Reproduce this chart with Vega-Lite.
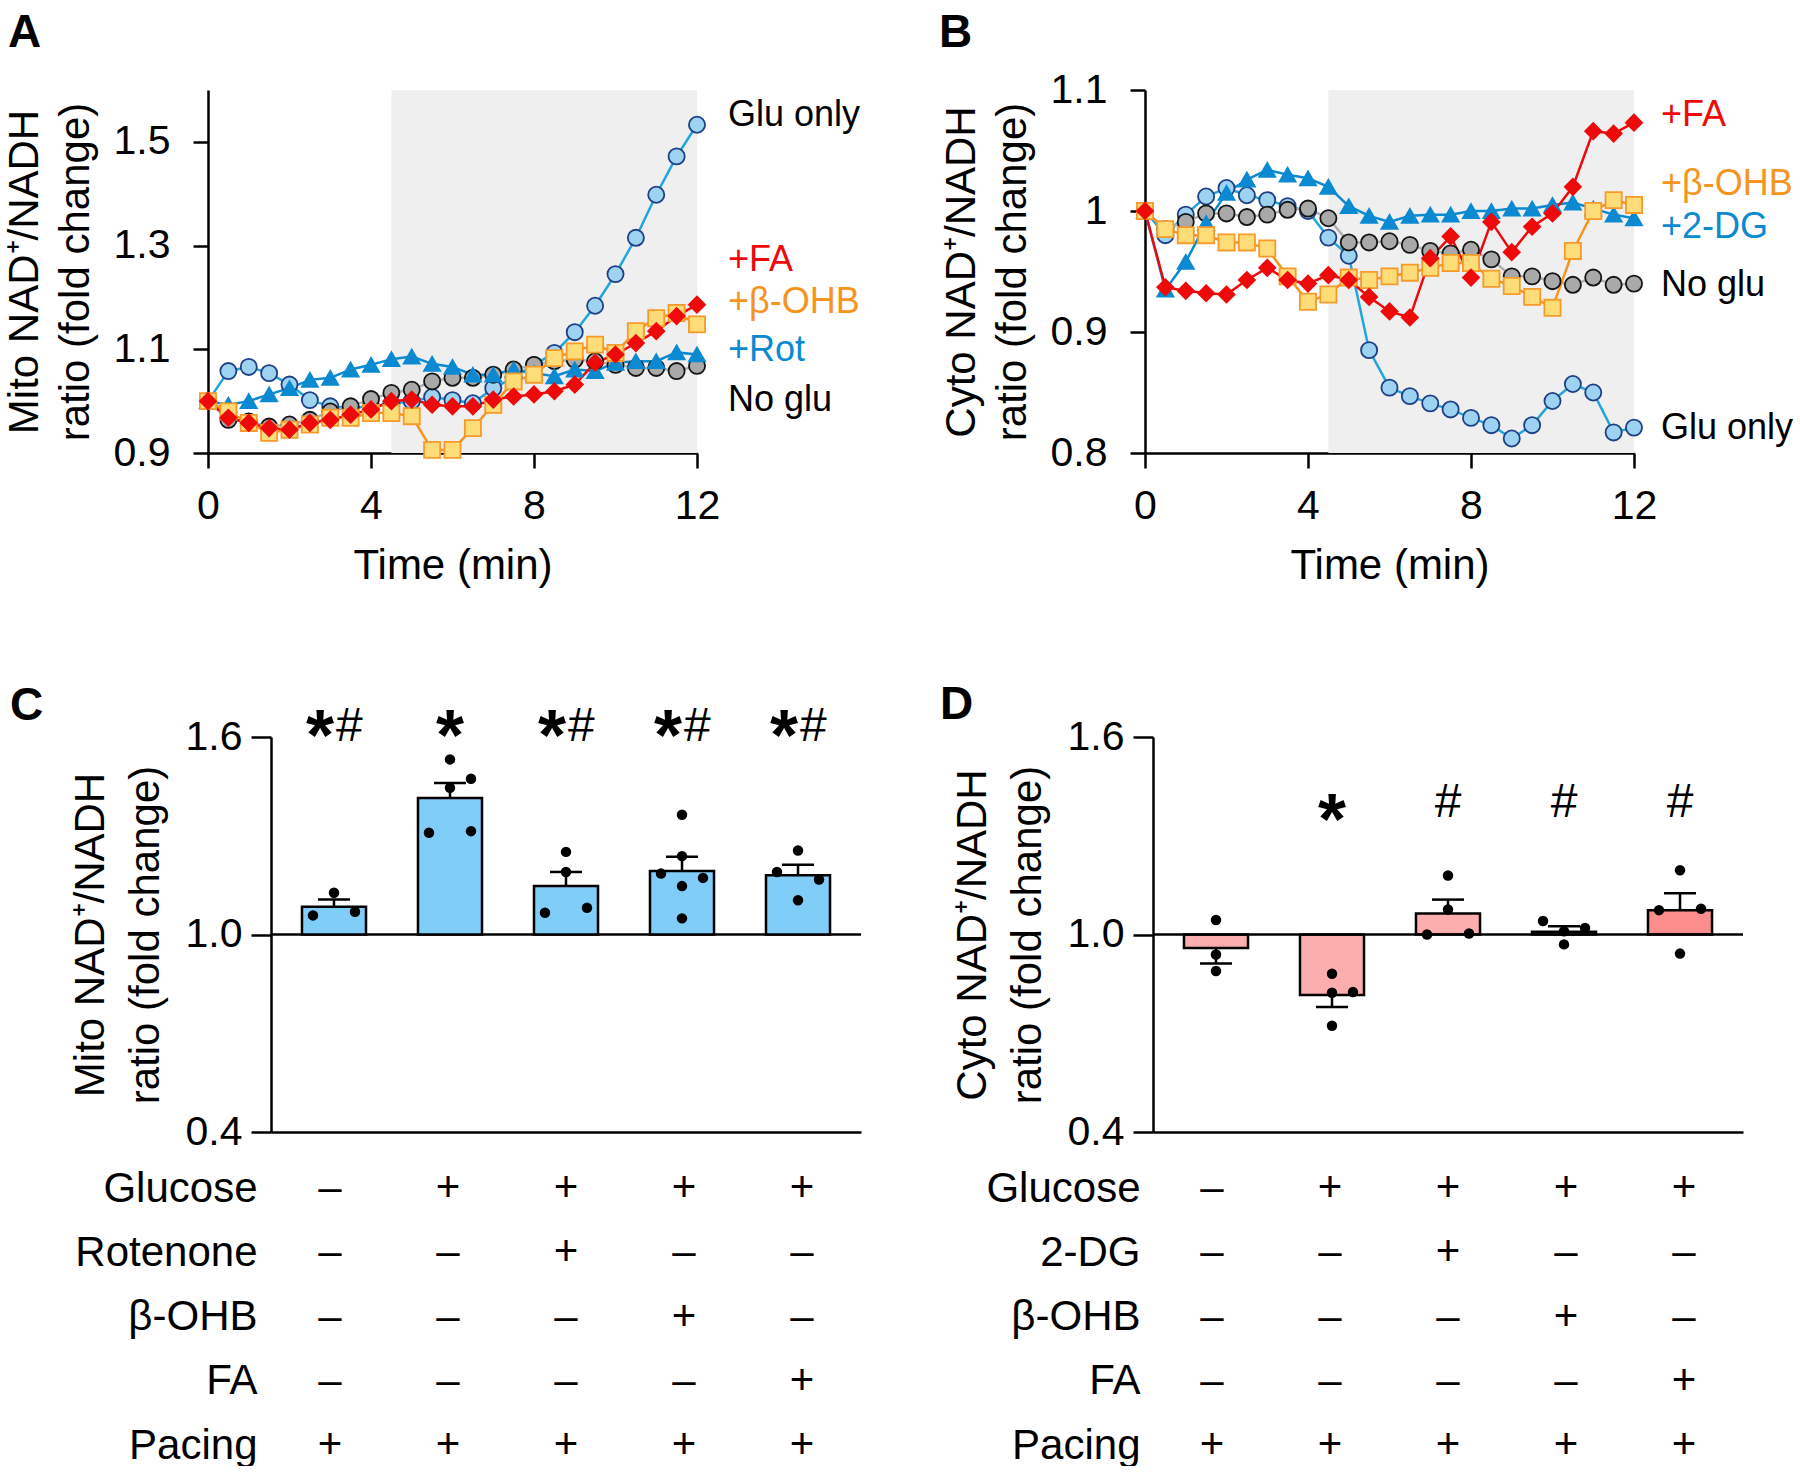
{
"$schema":"https://vega.github.io/schema/vega-lite/v6.json",
"background":"white",
"padding":{"left":3,"top":10,"right":0,"bottom":0},
"config":{
 "font":"Liberation Sans",
 "view":{"stroke":null},
 "axis":{"domainColor":"#000","domainWidth":2.5,"tickColor":"#000","tickWidth":2.5,"labelColor":"#000","titleColor":"#000","labelFontSize":41,"titleFontSize":42,"titleFontWeight":"normal","grid":false,"labelFont":"Liberation Sans","titleFont":"Liberation Sans","labelFlush":false,"labelOverlap":false,"labelLimit":0},
 "title":{"fontSize":46,"fontWeight":"bold","color":"#000","anchor":"start","frame":"group","baseline":"alphabetic","font":"Liberation Sans"},
 "text":{"font":"Liberation Sans"}
},
"datasets":{
 "lines":[
  {"p":"A","t":0,"glu":1,"noglu":1,"inh":1,"ohb":1,"fa":1},
  {"p":"A","t":0.5,"glu":1.058,"noglu":0.964,"inh":0.993,"ohb":0.98,"fa":0.968},
  {"p":"A","t":1,"glu":1.066,"noglu":0.961,"inh":1.0,"ohb":0.958,"fa":0.958},
  {"p":"A","t":1.5,"glu":1.054,"noglu":0.951,"inh":1.013,"ohb":0.939,"fa":0.948},
  {"p":"A","t":2,"glu":1.032,"noglu":0.955,"inh":1.025,"ohb":0.945,"fa":0.945},
  {"p":"A","t":2.5,"glu":1.002,"noglu":0.964,"inh":1.041,"ohb":0.955,"fa":0.958},
  {"p":"A","t":3,"glu":0.99,"noglu":0.98,"inh":1.045,"ohb":0.968,"fa":0.964},
  {"p":"A","t":3.5,"glu":0.987,"noglu":0.99,"inh":1.061,"ohb":0.968,"fa":0.974},
  {"p":"A","t":4,"glu":0.99,"noglu":1.004,"inh":1.07,"ohb":0.977,"fa":0.984},
  {"p":"A","t":4.5,"glu":0.995,"noglu":1.016,"inh":1.081,"ohb":0.977,"fa":1.0},
  {"p":"A","t":5,"glu":1.0,"noglu":1.022,"inh":1.086,"ohb":0.971,"fa":1.003},
  {"p":"A","t":5.5,"glu":1.008,"noglu":1.038,"inh":1.072,"ohb":0.906,"fa":0.993},
  {"p":"A","t":6,"glu":1.002,"noglu":1.045,"inh":1.066,"ohb":0.906,"fa":0.99},
  {"p":"A","t":6.5,"glu":0.996,"noglu":1.045,"inh":1.051,"ohb":0.948,"fa":0.99},
  {"p":"A","t":7,"glu":1.025,"noglu":1.051,"inh":1.051,"ohb":0.993,"fa":1.003},
  {"p":"A","t":7.5,"glu":1.045,"noglu":1.061,"inh":1.061,"ohb":1.038,"fa":1.009},
  {"p":"A","t":8,"glu":1.07,"noglu":1.07,"inh":1.054,"ohb":1.051,"fa":1.013},
  {"p":"A","t":8.5,"glu":1.093,"noglu":1.077,"inh":1.048,"ohb":1.083,"fa":1.019},
  {"p":"A","t":9,"glu":1.133,"noglu":1.08,"inh":1.061,"ohb":1.096,"fa":1.032},
  {"p":"A","t":9.5,"glu":1.184,"noglu":1.077,"inh":1.058,"ohb":1.109,"fa":1.074},
  {"p":"A","t":10,"glu":1.245,"noglu":1.07,"inh":1.074,"ohb":1.093,"fa":1.09},
  {"p":"A","t":10.5,"glu":1.315,"noglu":1.064,"inh":1.077,"ohb":1.135,"fa":1.112},
  {"p":"A","t":11,"glu":1.398,"noglu":1.064,"inh":1.077,"ohb":1.16,"fa":1.135},
  {"p":"A","t":11.5,"glu":1.472,"noglu":1.058,"inh":1.094,"ohb":1.17,"fa":1.164},
  {"p":"A","t":12,"glu":1.533,"noglu":1.068,"inh":1.09,"ohb":1.148,"fa":1.186},
  {"p":"B","t":0,"glu":1,"noglu":1,"inh":1,"ohb":1,"fa":1},
  {"p":"B","t":0.5,"glu":0.98,"noglu":0.985,"inh":0.935,"ohb":0.985,"fa":0.937},
  {"p":"B","t":1,"glu":0.997,"noglu":0.991,"inh":0.958,"ohb":0.98,"fa":0.934},
  {"p":"B","t":1.5,"glu":1.012,"noglu":0.998,"inh":0.99,"ohb":0.98,"fa":0.932},
  {"p":"B","t":2,"glu":1.019,"noglu":0.998,"inh":1.015,"ohb":0.974,"fa":0.931},
  {"p":"B","t":2.5,"glu":1.013,"noglu":0.995,"inh":1.026,"ohb":0.974,"fa":0.943},
  {"p":"B","t":3,"glu":1.009,"noglu":0.997,"inh":1.034,"ohb":0.969,"fa":0.953},
  {"p":"B","t":3.5,"glu":1.004,"noglu":1.001,"inh":1.03,"ohb":0.946,"fa":0.943},
  {"p":"B","t":4,"glu":1.0,"noglu":1.002,"inh":1.027,"ohb":0.925,"fa":0.94},
  {"p":"B","t":4.5,"glu":0.978,"noglu":0.994,"inh":1.02,"ohb":0.931,"fa":0.947},
  {"p":"B","t":5,"glu":0.963,"noglu":0.974,"inh":1.004,"ohb":0.945,"fa":0.943},
  {"p":"B","t":5.5,"glu":0.885,"noglu":0.974,"inh":0.996,"ohb":0.943,"fa":0.929},
  {"p":"B","t":6,"glu":0.854,"noglu":0.975,"inh":0.991,"ohb":0.946,"fa":0.917},
  {"p":"B","t":6.5,"glu":0.847,"noglu":0.972,"inh":0.996,"ohb":0.949,"fa":0.912},
  {"p":"B","t":7,"glu":0.841,"noglu":0.967,"inh":0.997,"ohb":0.953,"fa":0.961},
  {"p":"B","t":7.5,"glu":0.836,"noglu":0.965,"inh":0.997,"ohb":0.957,"fa":0.979},
  {"p":"B","t":8,"glu":0.829,"noglu":0.968,"inh":1.0,"ohb":0.957,"fa":0.945},
  {"p":"B","t":8.5,"glu":0.823,"noglu":0.96,"inh":1.0,"ohb":0.944,"fa":0.991},
  {"p":"B","t":9,"glu":0.812,"noglu":0.946,"inh":1.002,"ohb":0.938,"fa":0.966},
  {"p":"B","t":9.5,"glu":0.823,"noglu":0.946,"inh":1.002,"ohb":0.929,"fa":0.987},
  {"p":"B","t":10,"glu":0.843,"noglu":0.942,"inh":1.005,"ohb":0.92,"fa":0.998},
  {"p":"B","t":10.5,"glu":0.857,"noglu":0.939,"inh":1.007,"ohb":0.967,"fa":1.02},
  {"p":"B","t":11,"glu":0.85,"noglu":0.945,"inh":1.002,"ohb":1.0,"fa":1.066},
  {"p":"B","t":11.5,"glu":0.817,"noglu":0.939,"inh":0.997,"ohb":1.009,"fa":1.064},
  {"p":"B","t":12,"glu":0.821,"noglu":0.94,"inh":0.994,"ohb":1.005,"fa":1.073}
 ],
 "win":[{"p":"A","x0":4.5,"x1":12},{"p":"B","x0":4.5,"x1":12}],
 "labels":[
  {"p":"A","s":"glu","label":"Glu only","ly":1.552},
  {"p":"A","s":"fa","label":"+FA","ly":1.273},
  {"p":"A","s":"ohb","label":"+β-OHB","ly":1.191},
  {"p":"A","s":"inh","label":"+Rot","ly":1.099},
  {"p":"A","s":"noglu","label":"No glu","ly":1.002},
  {"p":"B","s":"fa","label":"+FA","ly":1.079},
  {"p":"B","s":"ohb","label":"+β-OHB","ly":1.022},
  {"p":"B","s":"inh","label":"+2-DG","ly":0.987},
  {"p":"B","s":"noglu","label":"No glu","ly":0.939},
  {"p":"B","s":"glu","label":"Glu only","ly":0.821}
 ],
 "bars":[
  {"p":"C","g":"g1","mean":1.084,"err":1.106},
  {"p":"C","g":"g2","mean":1.415,"err":1.46},
  {"p":"C","g":"g3","mean":1.147,"err":1.19},
  {"p":"C","g":"g4","mean":1.193,"err":1.236},
  {"p":"C","g":"g5","mean":1.18,"err":1.212},
  {"p":"D","g":"g1","mean":0.959,"err":0.912},
  {"p":"D","g":"g2","mean":0.816,"err":0.78},
  {"p":"D","g":"g3","mean":1.064,"err":1.106},
  {"p":"D","g":"g4","mean":1.008,"err":1.025},
  {"p":"D","g":"g5","mean":1.074,"err":1.125}
 ],
 "pts":[
  {"p":"C","g":"g1","col":"C","v":1.127},{"p":"C","g":"g1","col":"L","v":1.058},{"p":"C","g":"g1","col":"R","v":1.069},
  {"p":"C","g":"g2","col":"C","v":1.532},{"p":"C","g":"g2","col":"R","v":1.473},{"p":"C","g":"g2","col":"C","v":1.446},{"p":"C","g":"g2","col":"L","v":1.309},{"p":"C","g":"g2","col":"R","v":1.314},
  {"p":"C","g":"g3","col":"C","v":1.251},{"p":"C","g":"g3","col":"C","v":1.19},{"p":"C","g":"g3","col":"L","v":1.066},{"p":"C","g":"g3","col":"R","v":1.081},
  {"p":"C","g":"g4","col":"C","v":1.364},{"p":"C","g":"g4","col":"C","v":1.238},{"p":"C","g":"g4","col":"L","v":1.185},{"p":"C","g":"g4","col":"R","v":1.172},{"p":"C","g":"g4","col":"C","v":1.147},{"p":"C","g":"g4","col":"C","v":1.049},
  {"p":"C","g":"g5","col":"C","v":1.255},{"p":"C","g":"g5","col":"L","v":1.19},{"p":"C","g":"g5","col":"R","v":1.167},{"p":"C","g":"g5","col":"C","v":1.104},
  {"p":"D","g":"g1","col":"C","v":1.044},{"p":"D","g":"g1","col":"C","v":0.939},{"p":"D","g":"g1","col":"C","v":0.889},
  {"p":"D","g":"g2","col":"C","v":0.881},{"p":"D","g":"g2","col":"C","v":0.823},{"p":"D","g":"g2","col":"R","v":0.825},{"p":"D","g":"g2","col":"C","v":0.723},
  {"p":"D","g":"g3","col":"C","v":1.179},{"p":"D","g":"g3","col":"C","v":1.076},{"p":"D","g":"g3","col":"L","v":1.0},{"p":"D","g":"g3","col":"R","v":1.003},
  {"p":"D","g":"g4","col":"L","v":1.041},{"p":"D","g":"g4","col":"C","v":1.01},{"p":"D","g":"g4","col":"R","v":1.02},{"p":"D","g":"g4","col":"C","v":0.97},
  {"p":"D","g":"g5","col":"C","v":1.195},{"p":"D","g":"g5","col":"L","v":1.074},{"p":"D","g":"g5","col":"R","v":1.078},{"p":"D","g":"g5","col":"C","v":0.942}
 ],
 "sig":[
  {"p":"C","g":"g1","star":"*","hash":"#"},
  {"p":"C","g":"g2","star":"*","hash":""},
  {"p":"C","g":"g3","star":"*","hash":"#"},
  {"p":"C","g":"g4","star":"*","hash":"#"},
  {"p":"C","g":"g5","star":"*","hash":"#"},
  {"p":"D","g":"g2","star":"*","hash":""},
  {"p":"D","g":"g3","star":"","hash":"#"},
  {"p":"D","g":"g4","star":"","hash":"#"},
  {"p":"D","g":"g5","star":"","hash":"#"}
 ],
 "tbl":[
  {"p":"C","f":"Glucose","g1":"–","g2":"+","g3":"+","g4":"+","g5":"+"},
  {"p":"C","f":"Rotenone","g1":"–","g2":"–","g3":"+","g4":"–","g5":"–"},
  {"p":"C","f":"β-OHB","g1":"–","g2":"–","g3":"–","g4":"+","g5":"–"},
  {"p":"C","f":"FA","g1":"–","g2":"–","g3":"–","g4":"–","g5":"+"},
  {"p":"C","f":"Pacing","g1":"+","g2":"+","g3":"+","g4":"+","g5":"+"},
  {"p":"D","f":"Glucose","g1":"–","g2":"+","g3":"+","g4":"+","g5":"+"},
  {"p":"D","f":"2-DG","g1":"–","g2":"–","g3":"+","g4":"–","g5":"–"},
  {"p":"D","f":"β-OHB","g1":"–","g2":"–","g3":"–","g4":"+","g5":"–"},
  {"p":"D","f":"FA","g1":"–","g2":"–","g3":"–","g4":"–","g5":"+"},
  {"p":"D","f":"Pacing","g1":"+","g2":"+","g3":"+","g4":"+","g5":"+"}
 ]
},
"columns":1,
"spacing":96,
"concat":[
 {"hconcat":[
  {
   "width":489,"height":363,
   "title":{"text":"A","dx":-200,"offset":33},
   "layer":[
    {"data":{"name":"win"},"transform":[{"filter":"datum.p=='A'"}],
     "mark":{"type":"rect","color":"#efefef"},
     "encoding":{"x":{"field":"x0","type":"quantitative","scale":{"domain":[0,12],"nice":false,"zero":false},"axis":{"values":[0,4,8,12],"title":"Time (min)","tickSize":15,"labelPadding":18,"titlePadding":19}},"x2":{"field":"x1"}}},
    {"data":{"name":"lines"},"transform":[{"filter":"datum.p=='A'"},{"fold":["glu","noglu","inh","ohb","fa"],"as":["s","v"]}],
     "mark":{"type":"line","strokeWidth":2.5},
     "encoding":{"x":{"field":"t","type":"quantitative"},
      "y":{"field":"v","type":"quantitative","scale":{"domain":[0.9,1.6],"nice":false,"zero":false},"axis":{"values":[0.9,1.1,1.3,1.5],"format":".1f","title":["Mito NAD⁺/NADH","ratio (fold change)"],"tickSize":15,"labelPadding":23,"titlePadding":16,"titleLineHeight":51}},
      "color":{"field":"s","type":"nominal","scale":{"domain":["glu","noglu","inh","ohb","fa"],"range":["#22a5de","#b0b0b0","#0b89d1","#f7941d","#ee0a0a"]},"legend":null}}},
    {"data":{"name":"lines"},"transform":[{"filter":"datum.p=='A'"},{"fold":["glu","noglu","inh","ohb","fa"],"as":["s","v"]}],
     "mark":{"type":"point","filled":true,"opacity":1,"size":260,"strokeWidth":1.8},
     "encoding":{"x":{"field":"t","type":"quantitative"},"y":{"field":"v","type":"quantitative"},
      "fill":{"field":"s","type":"nominal","scale":{"domain":["glu","noglu","inh","ohb","fa"],"range":["#9dd3f1","#a9a9a9","#0b89d1","#fedd78","#ee0a0a"]},"legend":null},
      "stroke":{"field":"s","type":"nominal","scale":{"domain":["glu","noglu","inh","ohb","fa"],"range":["#1e3f85","#141414","#0b89d1","#f79a2a","#ee0a0a"]},"legend":null},
      "shape":{"field":"s","type":"nominal","scale":{"domain":["glu","noglu","inh","ohb","fa"],"range":["circle","circle","triangle-up","square","diamond"]},"legend":null}}},
    {"data":{"name":"labels"},"transform":[{"filter":"datum.p=='A'"}],
     "mark":{"type":"text","align":"left","baseline":"middle","dx":31,"fontSize":36},
     "encoding":{"x":{"datum":12,"type":"quantitative"},"y":{"field":"ly","type":"quantitative"},"text":{"field":"label"},
      "color":{"field":"s","type":"nominal","scale":{"domain":["glu","noglu","inh","ohb","fa"],"range":["#000000","#000000","#0b89d1","#f7941d","#ee0a0a"]},"legend":null}}}
   ],
   "resolve":{"scale":{"color":"independent"}}
  },
  {
   "width":489,"height":363,
   "title":{"text":"B","dx":-206,"offset":12},
   "layer":[
    {"data":{"name":"win"},"transform":[{"filter":"datum.p=='B'"}],
     "mark":{"type":"rect","color":"#efefef"},
     "encoding":{"x":{"field":"x0","type":"quantitative","scale":{"domain":[0,12],"nice":false,"zero":false},"axis":{"values":[0,4,8,12],"title":"Time (min)","tickSize":15,"labelPadding":18,"titlePadding":19}},"x2":{"field":"x1"}}},
    {"data":{"name":"lines"},"transform":[{"filter":"datum.p=='B'"},{"fold":["glu","noglu","inh","ohb","fa"],"as":["s","v"]}],
     "mark":{"type":"line","strokeWidth":2.5},
     "encoding":{"x":{"field":"t","type":"quantitative"},
      "y":{"field":"v","type":"quantitative","scale":{"domain":[0.8,1.1],"nice":false,"zero":false},"axis":{"values":[0.8,0.9,1.0,1.1],"labelExpr":"datum.value == 1 ? '1' : format(datum.value, '.1f')","title":["Cyto NAD⁺/NADH","ratio (fold change)"],"tickSize":15,"labelPadding":23,"titlePadding":16,"titleLineHeight":51}},
      "color":{"field":"s","type":"nominal","scale":{"domain":["glu","noglu","inh","ohb","fa"],"range":["#22a5de","#b0b0b0","#0b89d1","#f7941d","#ee0a0a"]},"legend":null}}},
    {"data":{"name":"lines"},"transform":[{"filter":"datum.p=='B'"},{"fold":["glu","noglu","inh","ohb","fa"],"as":["s","v"]}],
     "mark":{"type":"point","filled":true,"opacity":1,"size":260,"strokeWidth":1.8},
     "encoding":{"x":{"field":"t","type":"quantitative"},"y":{"field":"v","type":"quantitative"},
      "fill":{"field":"s","type":"nominal","scale":{"domain":["glu","noglu","inh","ohb","fa"],"range":["#9dd3f1","#a9a9a9","#0b89d1","#fedd78","#ee0a0a"]},"legend":null},
      "stroke":{"field":"s","type":"nominal","scale":{"domain":["glu","noglu","inh","ohb","fa"],"range":["#1e3f85","#141414","#0b89d1","#f79a2a","#ee0a0a"]},"legend":null},
      "shape":{"field":"s","type":"nominal","scale":{"domain":["glu","noglu","inh","ohb","fa"],"range":["circle","circle","triangle-up","square","diamond"]},"legend":null}}},
    {"data":{"name":"labels"},"transform":[{"filter":"datum.p=='B'"}],
     "mark":{"type":"text","align":"left","baseline":"middle","dx":27,"fontSize":36},
     "encoding":{"x":{"datum":12,"type":"quantitative"},"y":{"field":"ly","type":"quantitative"},"text":{"field":"label"},
      "color":{"field":"s","type":"nominal","scale":{"domain":["glu","noglu","inh","ohb","fa"],"range":["#000000","#000000","#0b89d1","#f7941d","#ee0a0a"]},"legend":null}}}
   ],
   "resolve":{"scale":{"color":"independent"}}
  }
 ],"spacing":448,"bounds":"flush"},
 {"hconcat":[
  {"vconcat":[
   {
    "width":653,"height":395,
    "title":{"text":"C","dx":-198,"offset":-28},
    "layer":[
     {"data":{"values":[{"ref":1}]},"mark":{"type":"rule","color":"#000","strokeWidth":2.5},
      "encoding":{"x":{"datum":0,"type":"quantitative","scale":{"domain":[0,1],"range":[63,653]},"axis":null},"x2":{"datum":1},"y":{"field":"ref","type":"quantitative"}}},
     {"layer":[
      {"data":{"name":"bars"},"transform":[{"filter":"datum.p=='C'"}],
       "mark":{"type":"bar","stroke":"#000","strokeWidth":2.5,"fill":"#80cdf8"},
       "encoding":{"x":{"field":"g","type":"nominal","scale":{"domain":["g1","g2","g3","g4","g5"],"range":[63,653],"paddingInner":0.448,"paddingOuter":0.267},"axis":{"labels":false,"ticks":false,"title":null}},
        "y":{"field":"mean","type":"quantitative","scale":{"domain":[0.4,1.6],"nice":false,"zero":false},"axis":{"values":[0.4,1.0,1.6],"format":".1f","title":["Mito NAD⁺/NADH","ratio (fold change)"],"tickSize":20,"labelPadding":9,"titlePadding":18,"titleLineHeight":55,"offset":-63}},
        "y2":{"datum":1}}},
      {"data":{"name":"bars"},"transform":[{"filter":"datum.p=='C'"}],"mark":{"type":"rule","color":"#000","strokeWidth":2.5},
       "encoding":{"x":{"field":"g","type":"nominal"},"y":{"field":"mean","type":"quantitative"},"y2":{"field":"err"}}},
      {"data":{"name":"bars"},"transform":[{"filter":"datum.p=='C'"}],"mark":{"type":"tick","color":"#000","thickness":2.5,"size":32,"opacity":1},
       "encoding":{"x":{"field":"g","type":"nominal"},"y":{"field":"err","type":"quantitative"}}},
      {"data":{"name":"pts"},"transform":[{"filter":"datum.p=='C' && datum.col=='L'"}],"mark":{"type":"circle","size":110,"color":"#000","opacity":1,"xOffset":-21},
       "encoding":{"x":{"field":"g","type":"nominal"},"y":{"field":"v","type":"quantitative"}}},
      {"data":{"name":"pts"},"transform":[{"filter":"datum.p=='C' && datum.col=='C'"}],"mark":{"type":"circle","size":110,"color":"#000","opacity":1},
       "encoding":{"x":{"field":"g","type":"nominal"},"y":{"field":"v","type":"quantitative"}}},
      {"data":{"name":"pts"},"transform":[{"filter":"datum.p=='C' && datum.col=='R'"}],"mark":{"type":"circle","size":110,"color":"#000","opacity":1,"xOffset":21},
       "encoding":{"x":{"field":"g","type":"nominal"},"y":{"field":"v","type":"quantitative"}}},
      {"data":{"name":"sig"},"transform":[{"filter":"datum.p=='C' && datum.hash != ''"}],"mark":{"type":"text","fontSize":72,"fontWeight":"bold","align":"right","baseline":"alphabetic","color":"#000"},
       "encoding":{"x":{"field":"g","type":"nominal"},"y":{"datum":1.53},"text":{"field":"star"}}},
      {"data":{"name":"sig"},"transform":[{"filter":"datum.p=='C' && datum.hash == ''"}],"mark":{"type":"text","fontSize":72,"fontWeight":"bold","align":"center","baseline":"alphabetic","color":"#000"},
       "encoding":{"x":{"field":"g","type":"nominal"},"y":{"datum":1.53},"text":{"field":"star"}}},
      {"data":{"name":"sig"},"transform":[{"filter":"datum.p=='C' && datum.hash != ''"}],"mark":{"type":"text","fontSize":48,"align":"left","dx":2,"baseline":"alphabetic","color":"#000"},
       "encoding":{"x":{"field":"g","type":"nominal"},"y":{"datum":1.588},"text":{"field":"hash"}}}
     ]}
    ],
    "resolve":{"scale":{"x":"independent"}}
   },
   {
    "width":653,"height":257,
    "data":{"name":"tbl"},
    "transform":[{"filter":"datum.p=='C'"},{"fold":["g1","g2","g3","g4","g5"],"as":["g","s"]}],
    "mark":{"type":"text","fontSize":42,"baseline":"middle","color":"#000"},
    "encoding":{
     "x":{"field":"g","type":"nominal","scale":{"domain":["g1","g2","g3","g4","g5"],"range":[63,653],"paddingInner":0.448,"paddingOuter":0.267},"axis":null},
     "y":{"field":"f","type":"nominal","scale":{"type":"point","padding":0,"domain":["Glucose","Rotenone","β-OHB","FA","Pacing"]},"axis":{"domain":false,"ticks":false,"title":null,"labelPadding":14,"labelFontSize":42,"offset":-63}},
     "text":{"field":"s"}
    }
   }
  ],"spacing":56,"bounds":"flush"},
  {"vconcat":[
   {
    "width":590,"height":395,
    "title":{"text":"D","dx":-213,"offset":-13},
    "layer":[
     {"data":{"name":"bars"},"transform":[{"filter":"datum.p=='D' && datum.g != 'g5'"}],
      "mark":{"type":"bar","stroke":"#000","strokeWidth":2.5,"fill":"#fcadad"},
      "encoding":{"x":{"field":"g","type":"nominal","scale":{"domain":["g1","g2","g3","g4","g5"],"paddingInner":0.448,"paddingOuter":0.267},"axis":{"labels":false,"ticks":false,"title":null}},
       "y":{"field":"mean","type":"quantitative","scale":{"domain":[0.4,1.6],"nice":false,"zero":false},"axis":{"values":[0.4,1.0,1.6],"format":".1f","title":["Cyto NAD⁺/NADH","ratio (fold change)"],"tickSize":20,"labelPadding":9,"titlePadding":18,"titleLineHeight":55}},
       "y2":{"datum":1}}},
     {"data":{"name":"bars"},"transform":[{"filter":"datum.p=='D' && datum.g == 'g5'"}],
      "mark":{"type":"bar","stroke":"#000","strokeWidth":2.5,"fill":"#fb8d8d"},
      "encoding":{"x":{"field":"g","type":"nominal"},"y":{"field":"mean","type":"quantitative"},"y2":{"datum":1}}},
     {"data":{"values":[{"ref":1}]},"mark":{"type":"rule","color":"#000","strokeWidth":2.5},"encoding":{"y":{"field":"ref","type":"quantitative"}}},
     {"data":{"name":"bars"},"transform":[{"filter":"datum.p=='D'"}],"mark":{"type":"rule","color":"#000","strokeWidth":2.5},
      "encoding":{"x":{"field":"g","type":"nominal"},"y":{"field":"mean","type":"quantitative"},"y2":{"field":"err"}}},
     {"data":{"name":"bars"},"transform":[{"filter":"datum.p=='D'"}],"mark":{"type":"tick","color":"#000","thickness":2.5,"size":32,"opacity":1},
      "encoding":{"x":{"field":"g","type":"nominal"},"y":{"field":"err","type":"quantitative"}}},
     {"data":{"name":"pts"},"transform":[{"filter":"datum.p=='D' && datum.col=='L'"}],"mark":{"type":"circle","size":110,"color":"#000","opacity":1,"xOffset":-21},
      "encoding":{"x":{"field":"g","type":"nominal"},"y":{"field":"v","type":"quantitative"}}},
     {"data":{"name":"pts"},"transform":[{"filter":"datum.p=='D' && datum.col=='C'"}],"mark":{"type":"circle","size":110,"color":"#000","opacity":1},
      "encoding":{"x":{"field":"g","type":"nominal"},"y":{"field":"v","type":"quantitative"}}},
     {"data":{"name":"pts"},"transform":[{"filter":"datum.p=='D' && datum.col=='R'"}],"mark":{"type":"circle","size":110,"color":"#000","opacity":1,"xOffset":21},
      "encoding":{"x":{"field":"g","type":"nominal"},"y":{"field":"v","type":"quantitative"}}},
     {"data":{"name":"sig"},"transform":[{"filter":"datum.p=='D' && datum.star != ''"}],"mark":{"type":"text","fontSize":72,"fontWeight":"bold","align":"center","baseline":"alphabetic","color":"#000"},
      "encoding":{"x":{"field":"g","type":"nominal"},"y":{"datum":1.275},"text":{"field":"star"}}},
     {"data":{"name":"sig"},"transform":[{"filter":"datum.p=='D' && datum.hash != ''"}],"mark":{"type":"text","fontSize":48,"align":"center","baseline":"alphabetic","color":"#000"},
      "encoding":{"x":{"field":"g","type":"nominal"},"y":{"datum":1.357},"text":{"field":"hash"}}}
    ]
   },
   {
    "width":590,"height":257,
    "data":{"name":"tbl"},
    "transform":[{"filter":"datum.p=='D'"},{"fold":["g1","g2","g3","g4","g5"],"as":["g","s"]}],
    "mark":{"type":"text","fontSize":42,"baseline":"middle","color":"#000"},
    "encoding":{
     "x":{"field":"g","type":"nominal","scale":{"domain":["g1","g2","g3","g4","g5"],"paddingInner":0.448,"paddingOuter":0.267},"axis":null},
     "y":{"field":"f","type":"nominal","scale":{"type":"point","padding":0,"domain":["Glucose","2-DG","β-OHB","FA","Pacing"]},"axis":{"domain":false,"ticks":false,"title":null,"labelPadding":13,"labelFontSize":42}},
     "text":{"field":"s"}
    }
   }
  ],"spacing":56,"bounds":"flush"}
 ],"spacing":77}
]
}
